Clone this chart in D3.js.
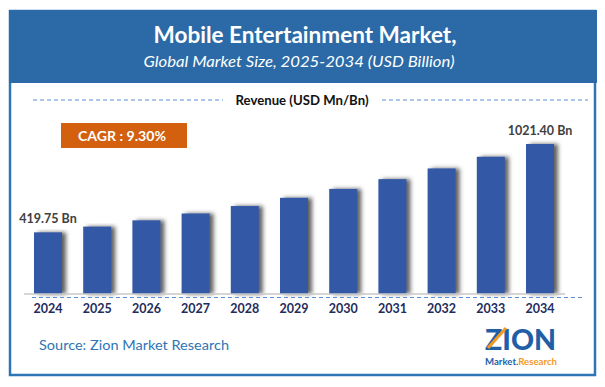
<!DOCTYPE html>
<html>
<head>
<meta charset="utf-8">
<script src="https://cdn.jsdelivr.net/npm/d3@7"></script>
<style>
  body { margin: 0; background: #fff; }
  svg { display: block; font-family: Lato, "Open Sans", sans-serif; }
</style>
</head>
<body>
<div class="content"></div>
<script>
var years = ["2024", "2025", "2026", "2027", "2028", "2029", "2030", "2031", "2032", "2033", "2034"];
var revenue = [419.75, 458.8, 501.4, 548.1, 599.0, 654.8, 715.6, 782.2, 855.0, 934.5, 1021.40];
var labelled = {"2024": "419.75 Bn", "2034": "1021.40 Bn"};
var titleText = "Mobile Entertainment Market,";
var subtitleText = "Global Market Size, 2025-2034 (USD Billion)";
var legendText = "Revenue (USD Mn/Bn)";
var cagrText = "CAGR : 9.30%";
var sourceText = "Source: Zion Market Research";

var fullWidth = 605, fullHeight = 387;

var svg = d3.select("div.content").append("svg")
    .attr("width", fullWidth)
    .attr("height", fullHeight);

var defs = svg.append("defs");
var shadow = defs.append("filter").attr("id", "barShadow")
    .attr("x", "-20%").attr("y", "-5%").attr("width", "160%").attr("height", "110%");
shadow.append("feDropShadow")
    .attr("dx", 4).attr("dy", 0).attr("stdDeviation", 2)
    .attr("flood-color", "#444").attr("flood-opacity", 0.85);

//frame
svg.append("rect")
    .attr("x", 10).attr("y", 11).attr("width", 585).attr("height", 364)
    .attr("fill", "none").attr("stroke", "#2e75b6").attr("stroke-width", 2.5);

//header
svg.append("rect")
    .attr("x", 9).attr("y", 10).attr("width", 588).attr("height", 73)
    .attr("fill", "#2b6aa6");
svg.append("text")
    .attr("x", 305).attr("y", 43)
    .attr("text-anchor", "middle")
    .attr("textLength", 303).attr("lengthAdjust", "spacingAndGlyphs")
    .style("font-size", "22px").style("font-weight", "bold").style("fill", "#fff")
    .text(titleText);
svg.append("text")
    .attr("x", 299).attr("y", 67)
    .attr("text-anchor", "middle")
    .attr("textLength", 311).attr("lengthAdjust", "spacingAndGlyphs")
    .style("font-size", "15px").style("font-style", "italic").style("fill", "#fff")
    .text(subtitleText);

//legend row
svg.append("line")
    .attr("x1", 33).attr("x2", 223).attr("y1", 100).attr("y2", 100)
    .attr("stroke", "#5b8fd8").attr("stroke-width", 1).attr("stroke-dasharray", "4,3");
svg.append("line")
    .attr("x1", 382).attr("x2", 588).attr("y1", 100).attr("y2", 100)
    .attr("stroke", "#5b8fd8").attr("stroke-width", 1).attr("stroke-dasharray", "4,3");
svg.append("text")
    .attr("x", 302).attr("y", 105)
    .attr("text-anchor", "middle")
    .attr("textLength", 133).attr("lengthAdjust", "spacingAndGlyphs")
    .style("font-size", "13px").style("font-weight", "bold").style("fill", "#111")
    .text(legendText);

//cagr box
svg.append("rect")
    .attr("x", 61).attr("y", 123).attr("width", 126).attr("height", 25)
    .attr("fill", "#d2600f");
svg.append("text")
    .attr("x", 122).attr("y", 141)
    .attr("text-anchor", "middle")
    .attr("textLength", 88).attr("lengthAdjust", "spacingAndGlyphs")
    .style("font-size", "14px").style("font-weight", "bold").style("fill", "#fff")
    .text(cagrText);

//scales
var x = d3.scaleBand().domain(years).range([21.7, 566.3])
    .paddingInner(0.431).paddingOuter(0.25);
var y = d3.scaleLinear().domain([0, 1021.4]).range([294, 144]);

//bars
svg.append("g").selectAll(".bar")
    .data(years)
  .enter().append("rect")
    .attr("class", "bar")
    .attr("x", function(d){return x(d);})
    .attr("y", function(d, i){return y(revenue[i]);})
    .attr("width", x.bandwidth())
    .attr("height", function(d, i){return y(0) - y(revenue[i]);})
    .attr("fill", "#3358a6")
    .attr("filter", "url(#barShadow)");

//baseline + dashed line
svg.append("line")
    .attr("x1", 24).attr("x2", 565).attr("y1", y(0)).attr("y2", y(0))
    .attr("stroke", "#c8c8c8").attr("stroke-width", 1.5);
svg.append("line")
    .attr("x1", 32).attr("x2", 585).attr("y1", y(0) + 3.5).attr("y2", y(0) + 3.5)
    .attr("stroke", "#5b8fd8").attr("stroke-width", 1).attr("stroke-dasharray", "4,3");

//x axis
var xAxis = d3.axisBottom(x).tickSize(0).tickPadding(0);
var gx = svg.append("g")
    .attr("class", "x-axis")
    .attr("transform", "translate(0,304)")
    .call(xAxis);
gx.select(".domain").remove();
gx.selectAll("text")
    .attr("dy", "0.71em")
    .style("font-family", "Lato, 'Open Sans', sans-serif")
    .style("font-size", "12.5px").style("font-weight", "bold").style("fill", "#1f2d5c");

//value labels
svg.append("g").selectAll(".vlabel")
    .data(years.filter(function(d){return labelled[d];}))
  .enter().append("text")
    .attr("class", "vlabel")
    .attr("x", function(d){return x(d) + x.bandwidth() / 2;})
    .attr("y", function(d){return y(revenue[years.indexOf(d)]) - 9;})
    .attr("text-anchor", "middle")
    .style("font-size", "12.5px").style("font-weight", "bold").style("fill", "#404040")
    .text(function(d){return labelled[d];});

//source
svg.append("text")
    .attr("x", 39).attr("y", 350)
    .attr("textLength", 190).attr("lengthAdjust", "spacingAndGlyphs")
    .style("font-size", "14px").style("fill", "#2e75b6")
    .text(sourceText);

//logo
var logo = svg.append("g").attr("transform", "translate(485,0)");
logo.append("text")
    .attr("x", 0).attr("y", 350)
    .attr("textLength", 71).attr("lengthAdjust", "spacingAndGlyphs")
    .style("font-size", "28px").style("font-weight", "900").style("fill", "#1f5fa8")
    .text("ZION");
logo.append("line")
    .attr("x1", 3).attr("y1", 348).attr("x2", 21).attr("y2", 328)
    .attr("stroke", "#f29a1f").attr("stroke-width", 3);
logo.append("text")
    .attr("x", 0).attr("y", 365)
    .attr("textLength", 72).attr("lengthAdjust", "spacingAndGlyphs")
    .style("font-size", "9px").style("font-weight", "bold").style("fill", "#1f5fa8")
    .text("Market.")
  .append("tspan").style("fill", "#f29a1f").text("Research");
</script>
</body>
</html>
